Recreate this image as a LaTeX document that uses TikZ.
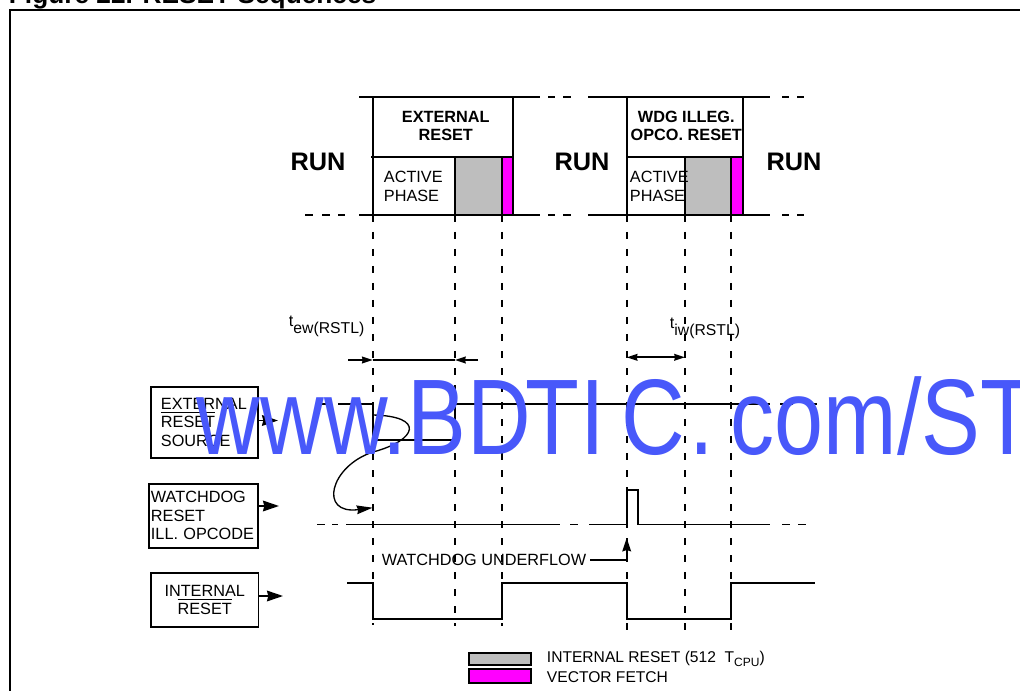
\documentclass[tikz,border=0pt]{standalone}
\usepackage{fontspec}
\setmainfont{Liberation Sans}
\usetikzlibrary{arrows.meta}
\definecolor{wm}{RGB}{72,88,250}
\definecolor{vf}{RGB}{255,0,255}
\definecolor{ir}{RGB}{190,190,190}
\newsavebox\olbox
\newcommand\olbar[1]{\leavevmode\sbox\olbox{#1}\rlap{\raisebox{\dimexpr\ht\olbox+2.2pt\relax}{\rule{\wd\olbox}{0.75pt}}}\usebox\olbox}
\newcommand\wmfont{\fontsize{80.6}{80}\selectfont}
\begin{document}
\begin{tikzpicture}[x=0.75pt,y=-0.75pt,line width=1.4pt,
  font=\fontsize{12.2}{13.9}\selectfont,
  dline/.style={dash pattern=on 5.25pt off 7.5pt},
  arr/.style={-{Stealth[length=12pt,width=8pt,inset=1pt]}},
  darr/.style={-{Stealth[length=8pt,width=5pt,inset=0.5pt]}},
  carr/.style={-{Stealth[length=12pt,width=6.5pt,inset=1pt]}},
  runlbl/.style={font=\fontsize{19}{20}\selectfont\bfseries, inner sep=0pt},
  boxtitle/.style={font=\fontsize{12.2}{13.75}\selectfont\bfseries, align=center, inner sep=0pt},
  phase/.style={font=\fontsize{12.2}{14.25}\selectfont, align=left, anchor=west, inner sep=0pt},
  sigbox/.style={draw, line width=1.4pt, anchor=north west},
  leg/.style={anchor=west, inner sep=0pt, font=\fontsize{11.7}{13}\selectfont},
  wmark/.style={anchor=base west, inner sep=0pt, text=wm}]
\useasboundingbox (0,0) rectangle (1020,691);
% title and frame
\node[anchor=base west, inner sep=0pt, font=\fontsize{19.7}{20}\selectfont\bfseries] (title) at (8,4) {Figure 22. RESET Sequences};
\draw[line width=1.5pt] (9.5,700) -- (9.5,10.5) -- (1030,10.5);
% state band lines
\draw (359,97) -- (540,97) (548,97) -- (555,97) (563,97) -- (571,97) (588,97) -- (770,97) (782,97) -- (789,97) (797,97) -- (804,97);
\draw (305,215) -- (313,215) (322,215) -- (330,215) (338,215) -- (345,215) (359,215) -- (540,215) (548,215) -- (555,215) (563,215) -- (571,215) (588,215) -- (770,215) (782,215) -- (789,215) (797,215) -- (804,215);
% box 1
\filldraw[fill=ir] (455,157) rectangle (502,215);
\filldraw[fill=vf] (502,157) rectangle (513,215);
\draw (372.7,97) -- (372.7,215) (513,97) -- (513,215) (371,157) -- (513,157);
% box 2
\filldraw[fill=ir] (685,157) rectangle (731,215);
\filldraw[fill=vf] (731,157) rectangle (743.3,215);
\draw (626.7,97) -- (626.7,215) (743.3,97) -- (743.3,215) (626.7,157) -- (743.3,157);
% labels
\node[runlbl] (run1) at (318,161.7) {RUN};
\node[runlbl] (run2) at (582,161.7) {RUN};
\node[runlbl] (run3) at (794,161.7) {RUN};
\node[boxtitle] (ext) at (445.8,125.9) {EXTERNAL\\RESET};
\node[boxtitle] (wdg) at (686.3,125.9) {WDG ILLEG.\\OPCO. RESET};
\node[phase] (act1) at (383,186.5) {ACTIVE\\PHASE};
\node[phase] (act2) at (629,186.5) {ACTIVE\\PHASE};
% dashed verticals
\foreach \x/\yb in {372.7/625, 455/626, 502/626, 626.7/638, 685/638, 731/638}
  \draw[dline] (\x,215) -- (\x,\yb);
% timing labels
\node[anchor=base west, inner sep=0pt] (tew) at (288,327) {t\raisebox{-5.25pt}{\fontsize{11.8}{12}\selectfont ew(RSTL)}};
\node[anchor=base west, inner sep=0pt] (tiw) at (669,329) {t\raisebox{-5.25pt}{\fontsize{11.8}{12}\selectfont iw(RSTL)}};
\coordinate (e1) at (348,360);
\coordinate (e2) at (372.7,360);
\coordinate (e3) at (455,360);
\coordinate (e4) at (478,360);
\draw (e2) -- (e3);
\draw[darr] (e1) -- (e2);
\draw[darr] (e4) -- (e3);
\coordinate (i1) at (626.7,357.3);
\coordinate (i2) at (685,357.3);
\draw[{Stealth[length=8pt,width=5pt,inset=0.5pt]}-{Stealth[length=8pt,width=5pt,inset=0.5pt]}] (i1) -- (i2);
% signal boxes
\node[sigbox, minimum height=53pt, text width=65pt, inner xsep=7.5pt, align=left] (ers) at (150,386) {EXTERNAL\\\olbar{RESET}\\SOURCE};
\node[sigbox, minimum height=47.8pt, text width=78.5pt, inner xsep=1.5pt, align=left] (wdb) at (148,483) {WATCHDOG\\RESET\\ILL. OPCODE};
\node[sigbox, minimum width=80.7pt, minimum height=40.7pt, align=center] (irb) at (150,571.7) {INTERNAL\\\olbar{RESET}};
\coordinate (a1) at (278,420.5);
\coordinate (a2) at (279,506);
\coordinate (a3) at (283,596);
\draw[arr] (ers.east |- a1) -- (a1);
\draw[arr] (wdb.east |- a2) -- (a2);
\draw[arr] (irb.east |- a3) -- (a3);
% external reset source waveform
\draw (318,404.3) -- (326,404.3);
\draw (338,404.3) -- (372.7,404.3) -- (372.7,440) -- (455,440) -- (455,404.3) -- (770,404.3);
\draw (780,404.3) -- (793,404.3) (807,404.3) -- (817,404.3);
% watchdog waveform
\draw (317,524.5) -- (325,524.5) (332,524.5) -- (338,524.5);
\draw (346,524.5) -- (560,524.5) (570,524.5) -- (578,524.5);
\draw (589,524.5) -- (626.7,524.5) -- (626.7,490) -- (638.3,490) -- (638.3,524.5) -- (770,524.5);
\draw (782,524.5) -- (790,524.5) (798,524.5) -- (806,524.5);
% internal reset waveform
\draw (347,583.3) -- (372.7,583.3) -- (372.7,619) -- (502,619) -- (502,583.3) -- (626.7,583.3) -- (626.7,619) -- (731,619) -- (731,583.3) -- (815,583.3);
% curved arrow
\coordinate (cs) at (372.7,415);
\coordinate (ce) at (372.7,507.7);
\draw[line width=1pt, carr] (cs) .. controls (425,416) and (418,440) .. (373,452) .. controls (330,466) and (318,515) .. (ce);
% underflow
\node[anchor=west, inner sep=0pt] (wu) at (381,560) {WATCHDOG UNDERFLOW};
\coordinate (wp) at (626.7,538);
\draw[-{Stealth[length=10pt,width=6.5pt,inset=1pt]}] ([xshift=2.5pt]wu.east) -| (wp);
% legend
\filldraw[fill=ir] (469.3,652.7) rectangle (530.7,665);
\filldraw[fill=vf] (469.3,669) rectangle (530.7,683.3);
\node[leg] (l1) at (546,659) {INTERNAL RESET (512\ \ T\raisebox{-2.5pt}{\fontsize{9}{9}\selectfont CPU})};
\node[leg] (l2) at (546,676.7) {VECTOR FETCH};
% watermark
\node[wmark] (wm1) at (196,454) {\scalebox{0.82}[1]{\wmfont www.}};
\node[wmark] (wm2) at (406.6,454) {\scalebox{0.82}[1]{\wmfont B}};
\node[wmark] (wm3) at (466.2,454) {\scalebox{0.82}[1]{\wmfont D}};
\node[wmark] (wm4) at (525,454) {\scalebox{0.82}[1]{\wmfont T}};
\node[wmark] (wm5) at (579.7,454) {\scalebox{0.82}[1]{\wmfont I}};
\node[wmark] (wm6) at (620.6,454) {\scalebox{0.82}[1]{\wmfont C}};
\node[wmark] (wm7) at (689,454) {\scalebox{0.82}[1]{\wmfont .}};
\node[wmark] (wm8) at (729.6,454) {\scalebox{0.82}[1]{\wmfont com/ST}};
\end{tikzpicture}
\end{document}
